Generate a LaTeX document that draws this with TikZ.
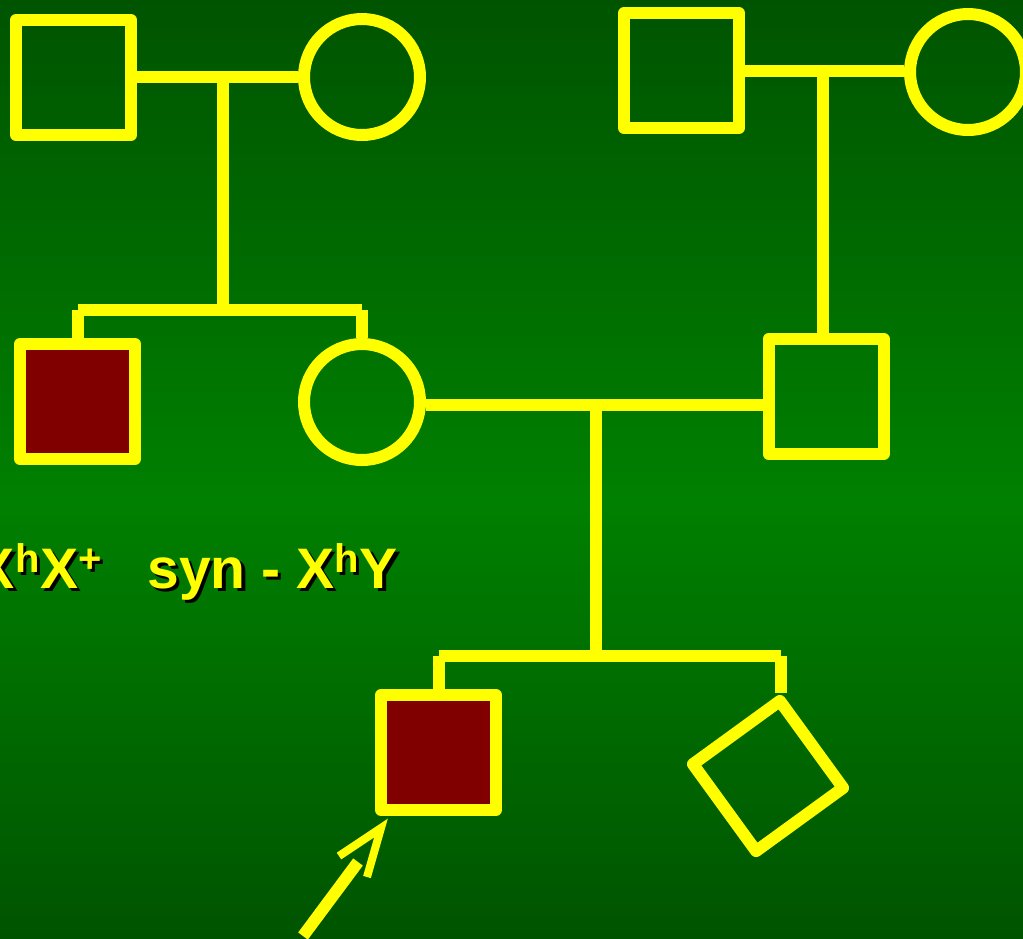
\documentclass[tikz,border=0pt]{standalone}
\usepackage{fontspec}
\setmainfont{Liberation Sans}
\usetikzlibrary{positioning,calc}
\definecolor{pedyellow}{RGB}{255,255,0}
\definecolor{affred}{RGB}{128,0,0}
\definecolor{bgdark}{RGB}{0,84,0}
\definecolor{bgmid}{RGB}{0,128,0}
\newcommand{\shtxt}[1]{\rlap{\kern1.8pt\raisebox{-1.8pt}{\color{black}#1}}#1}
\tikzset{
  pedline/.style={draw=pedyellow, line width=0.24cm},
  male/.style={rectangle, draw=pedyellow, line width=0.24cm, line join=round, minimum size=2.3cm, inner sep=0pt},
  female/.style={circle, draw=pedyellow, line width=0.24cm, minimum size=2.32cm, inner sep=0pt},
  unknown/.style={rectangle, draw=pedyellow, line width=0.24cm, line join=round, minimum size=2.15cm, inner sep=0pt, rotate=36},
  affected/.style={fill=affred},
  pedtext/.style={text=pedyellow, font=\fontsize{32.5}{40}\selectfont\bfseries, inner sep=0pt},
  pointer/.style={draw=pedyellow, line width=0.24cm},
  pointerhead/.style={draw=pedyellow, line width=0.16cm}
}

\begin{document}
\begin{tikzpicture}[x=0.02cm, y=-0.02cm]
\useasboundingbox (0,0) rectangle (1023,938);
\clip (0,0) rectangle (1023,938);
\shade[top color=bgdark, bottom color=bgmid] (0,0) rectangle (1023,500);
\shade[top color=bgmid, bottom color=bgdark] (0,499) rectangle (1023,938);

\node[male] (gf1) at (73.5,77.5) {};
\node[female] (gm1) at (362,77) {};
\node[male] (gf2) at (681.5,70.5) {};
\node[female] (gm2) at (968,72) {};
\node[male, affected] (uncle) at (77.5,401.5) {};
\node[female] (mother) at (362,402) {};
\node[male] (father) at (826,396.5) {};
\node[male, affected] (proband) at (438.5,752.5) {};
\node[unknown] (sib) at (768,776) {};

\coordinate (m1) at (223,77);
\coordinate (s1) at (223,310);
\coordinate (m2) at (823,71);
\coordinate (m3) at (596,405);
\coordinate (s3) at (596,656);

\draw[pedline] (gf1.east |- m1) -- (gm1.west |- m1);
\draw[pedline] (m1) -- (s1);
\draw[pedline] (uncle.north |- s1) -- (mother.north |- s1);
\draw[pedline] (uncle.north |- s1) -- (uncle.north);
\draw[pedline] (mother.north |- s1) -- (mother.north);
\draw[pedline] (gf2.east |- m2) -- (gm2.west |- m2);
\draw[pedline] (m2) -- (m2 |- father.north);
\draw[pedline] (mother.east |- m3) -- (father.west |- m3);
\draw[pedline] (m3) -- (s3);
\draw[pedline] (proband.north |- s3) -- (sib.north east |- s3);
\draw[pedline] (proband.north |- s3) -- (proband.north);
\draw[pedline] (sib.north east |- s3) -- (sib.north east);

\node[pedtext, anchor=base east] (geno1) at (103,588) {\shtxt{X\textsuperscript{h}X\textsuperscript{+}}};
\node[pedtext, anchor=base west] (geno2) at (147,588) {\shtxt{syn - X\textsuperscript{h}Y}};

\coordinate (ptail) at (303,936);
\coordinate (pend) at (358,862);
\coordinate (ptip) at (381,828);
\draw[pointer] (ptail) -- (pend);
\draw[pointerhead] ($(ptip)+(-42,28)$) -- (ptip) -- ($(ptip)+(-14,49)$);
\end{tikzpicture}
\end{document}
